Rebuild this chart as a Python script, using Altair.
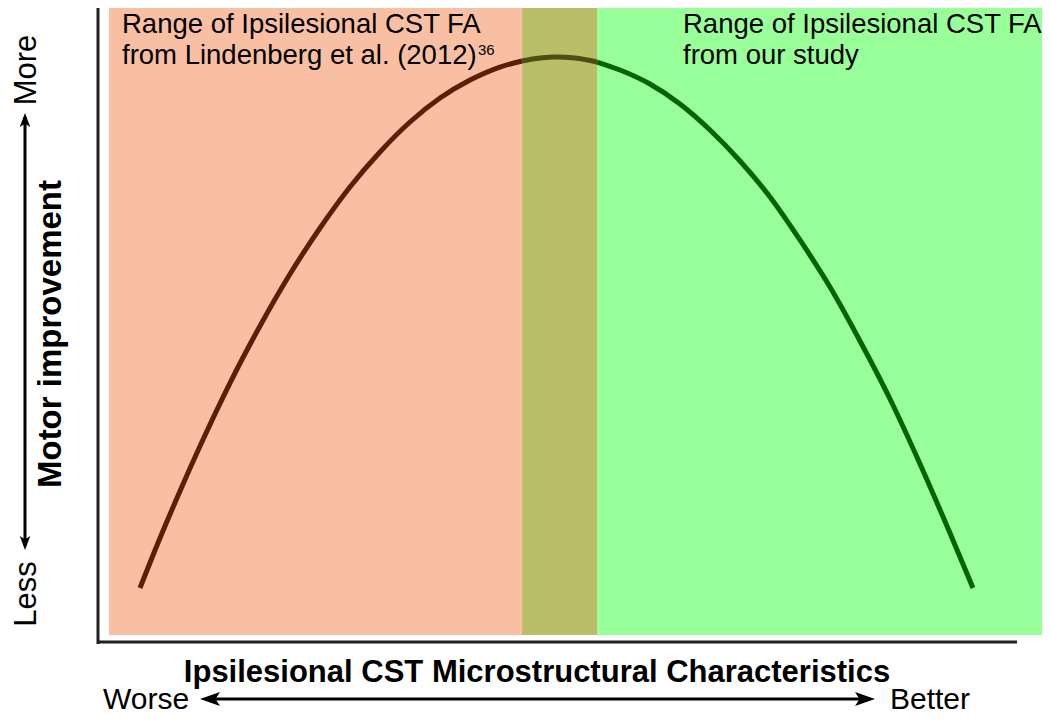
import altair as alt
import pandas as pd

# ---- Data (arbitrary 0-100 units) ----
curve_x = [4.45, 6.57, 8.69, 10.81, 13.98, 17.16, 20.34, 23.52, 26.69, 29.87,
           33.05, 36.23, 39.41, 42.58, 44.92, 46.82, 48.52, 50.53, 52.86, 55.30,
           58.47, 61.65, 64.83, 68.01, 71.19, 74.36, 77.54, 80.72, 83.90, 87.08,
           90.25, 92.69]
curve_y = [8.52, 16.40, 23.82, 30.91, 40.85, 49.84, 58.04, 65.30, 71.77, 77.29,
           82.02, 85.80, 88.64, 90.69, 91.64, 92.11, 92.27, 92.11, 91.48, 90.22,
           88.01, 84.86, 80.76, 75.87, 70.19, 63.41, 55.99, 47.48, 38.33, 28.08,
           17.19, 8.52]

band_names = ["Lindenberg", "Overlap", "Our study"]
band_start = [1.17, 44.92, 52.86]
band_end = [44.92, 52.86, 100.0]
band_bottom = [1.1, 1.1, 1.1]
band_top = [100.0, 100.0, 100.0]
band_colors = ["#F9BFA3", "#BCBD69", "#99FF99"]

seg_names = ["ref", "both", "ours"]
seg_colors = ["#5B1F08", "#4E4D14", "#006400"]

FONT = "Liberation Sans"

# ---- Build tables ----
bands = pd.DataFrame({"name": band_names, "x0": band_start, "x1": band_end,
                      "y0": band_bottom, "y1": band_top})

rows = []
lo, hi = band_start[1], band_end[1]
for xv, yv in zip(curve_x, curve_y):
    if xv <= lo:
        rows.append({"x": xv, "y": yv, "seg": "ref"})
    if lo <= xv <= hi:
        rows.append({"x": xv, "y": yv, "seg": "both"})
    if xv >= hi:
        rows.append({"x": xv, "y": yv, "seg": "ours"})
curve = pd.DataFrame(rows)

axes_lines = pd.DataFrame({"x": [0.0, -0.1], "x2": [0.0, 97.35],
                           "y": [-0.3, 0.0], "y2": [100.0, 0.0]})

xs = alt.Scale(domain=[0, 100], nice=False, zero=False)
ys = alt.Scale(domain=[0, 100], nice=False, zero=False)

band_layer = alt.Chart(bands).mark_rect(opacity=1).encode(
    x=alt.X("x0:Q", scale=xs, axis=None), x2="x1:Q",
    y=alt.Y("y0:Q", scale=ys, axis=None), y2="y1:Q",
    fill=alt.Fill("name:N", scale=alt.Scale(domain=band_names, range=band_colors), legend=None),
)

axis_layer = alt.Chart(axes_lines).mark_rule(color="#231F20", strokeWidth=3).encode(
    x=alt.X("x:Q", scale=xs, axis=None), x2="x2:Q",
    y=alt.Y("y:Q", scale=ys, axis=None), y2="y2:Q",
)

curve_layer = alt.Chart(curve).mark_line(strokeWidth=5, interpolate="monotone", strokeCap="butt").encode(
    x=alt.X("x:Q", scale=xs, axis=None),
    y=alt.Y("y:Q", scale=ys, axis=None),
    stroke=alt.Stroke("seg:N", scale=alt.Scale(domain=seg_names, range=seg_colors), legend=None),
    detail="seg:N",
)

one = pd.DataFrame({"k": [0]})


def label(text, x, y, size, bold=False, align="left", angle=0, baseline="alphabetic"):
    kw = dict(font=FONT, fontSize=size, fontWeight="bold" if bold else "normal",
              align=align, baseline=baseline, color="black", text=text)
    if angle:
        kw["angle"] = angle
    return alt.Chart(one).mark_text(**kw).encode(x=alt.value(x), y=alt.value(y))


texts = [
    label("Range of Ipsilesional CST FA", 24, 25, 27.5),
    label("from Lindenberg et al. (2012)", 24, 56, 27.5),
    label("36", 380, 47, 15),
    label("Range of Ipsilesional CST FA", 585, 25, 27.5),
    label("from our study", 585, 56, 27.5),
    label("Motor improvement", -37, 326, 33, bold=True, align="center", angle=270),
    label("More", -62, 62, 31, align="center", angle=270),
    label("Less", -62, 586, 31, align="center", angle=270),
    label("Ipsilesional CST Microstructural Characteristics", 439, 674, 31, bold=True, align="center"),
    label("Worse", 5, 701, 30),
    label("Better", 792, 701, 30),
]

# arrows
h_shaft = alt.Chart(one).mark_rule(color="black", strokeWidth=3).encode(
    x=alt.value(108), x2=alt.value(771), y=alt.value(691))
v_shaft = alt.Chart(one).mark_rule(color="black", strokeWidth=3).encode(
    x=alt.value(-73), y=alt.value(109), y2=alt.value(538))

LEFT = "M -1 0 L 1 -0.7 L 0.55 0 L 1 0.7 Z"
RIGHT = "M 1 0 L -1 -0.7 L -0.55 0 L -1 0.7 Z"
UP = "M 0 -1 L -0.75 1 L 0 0.55 L 0.75 1 Z"
DOWN = "M 0 1 L -0.75 -1 L 0 -0.55 L 0.75 -1 Z"


def head(shape, x, y, size):
    return alt.Chart(one).mark_point(shape=shape, filled=True, size=size, color="black",
                                     opacity=1, strokeWidth=0).encode(x=alt.value(x), y=alt.value(y))


heads = [
    head(LEFT, 112, 691, 400),
    head(RIGHT, 767, 691, 400),
    head(UP, -73, 112, 196),
    head(DOWN, -73, 535, 196),
]

chart = alt.layer(band_layer, axis_layer, curve_layer, h_shaft, v_shaft, *heads, *texts).properties(
    width=944, height=634,
    padding={"left": 90, "top": 0, "right": 0, "bottom": 74},
    autosize=alt.AutoSizeParams(type="none"),
    background="white",
).configure_view(stroke=None)

chart.save("out.html", embed_options={"renderer": "svg", "actions": False})
